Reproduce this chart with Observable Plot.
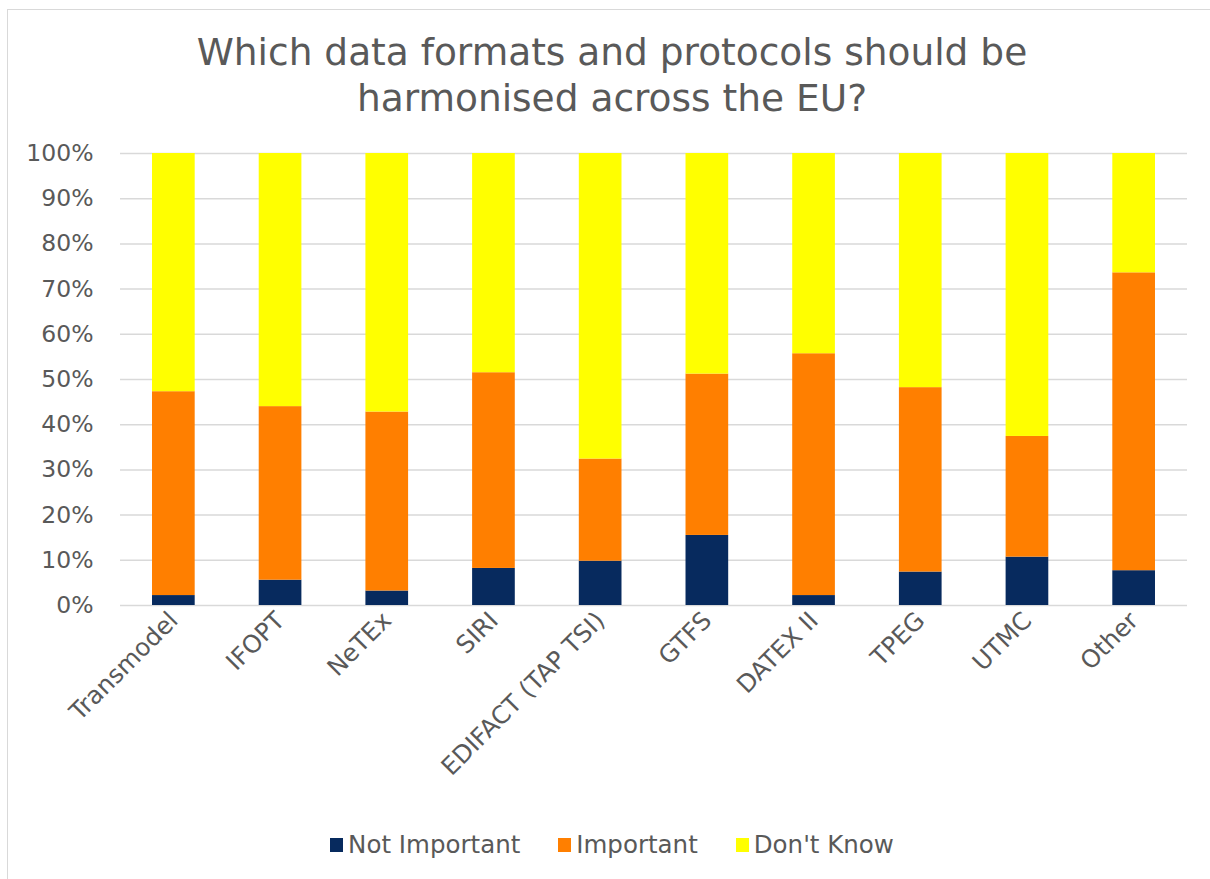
<!DOCTYPE html>
<html>
<head>
<meta charset="utf-8">
<script src="https://cdn.jsdelivr.net/npm/d3@7"></script>
<script src="https://cdn.jsdelivr.net/npm/@observablehq/plot@0.6"></script>
<style>
  html, body { margin: 0; padding: 0; background: #fff; }
  body { width: 1210px; height: 879px; position: relative; overflow: hidden; font-family: "DejaVu Sans", Verdana, sans-serif; color: #595959; }
  #frame { position: absolute; left: 7px; top: 9px; width: 1220px; height: 890px; border: 1.5px solid #d9d9d9; box-sizing: border-box; }
  #title { position: absolute; left: 7px; top: 29px; width: 1210px; text-align: center; font-size: 37.5px; line-height: 46px; color: #595959; }
  #chart { position: absolute; left: 0; top: 0; }
  #legend { position: absolute; left: 7px; top: 830px; width: 1210px; display: flex; justify-content: center; gap: 38px; font-size: 24.5px; line-height: 30px; color: #595959; }
  .item { display: flex; align-items: center; gap: 5px; }
  .sw { width: 13px; height: 14px; display: inline-block; }
</style>
</head>
<body>
<div id="frame"></div>
<div id="title">Which data formats and protocols should be<br>harmonised across the EU?</div>
<div id="chart"></div>
<div id="legend"></div>
<script>
const categories = ["Transmodel", "IFOPT", "NeTEx", "SIRI", "EDIFACT (TAP TSI)", "GTFS", "DATEX II", "TPEG", "UTMC", "Other"];
const notImportant = [2.2, 5.6, 3.2, 8.2, 9.8, 15.5, 2.2, 7.4, 10.7, 7.7];
const important    = [45.1, 38.4, 39.6, 43.3, 22.6, 35.7, 53.5, 40.8, 26.7, 65.9];
const dontKnow     = [52.7, 56.0, 57.2, 48.5, 67.6, 48.8, 44.3, 51.8, 62.6, 26.4];
const seriesNames = ["Not Important", "Important", "Don't Know"];
const seriesColors = ["#072a5e", "#ff7f00", "#ffff00"];
const yTicks = [0, 10, 20, 30, 40, 50, 60, 70, 80, 90, 100];

const seriesValues = [notImportant, important, dontKnow];
const data = categories.flatMap((c, i) =>
  seriesNames.map((s, k) => ({cat: c, series: s, value: seriesValues[k][i]}))
);

const chart = Plot.plot({
  width: 1210,
  height: 820,
  marginTop: 153,
  marginBottom: 215,
  marginLeft: 120,
  marginRight: 23,
  style: {fontFamily: "'DejaVu Sans', Verdana, sans-serif", fontSize: "23px", color: "#595959", background: "transparent"},
  x: {domain: categories, paddingInner: 0.6, paddingOuter: 0.3, round: false, label: null},
  y: {domain: [0, 100], label: null},
  color: {domain: seriesNames, range: seriesColors},
  marks: [
    Plot.gridY(yTicks, {stroke: "#d9d9d9", strokeOpacity: 1, strokeWidth: 1.5}),
    Plot.barY(data, Plot.stackY({x: "cat", y: "value", fill: "series"})),
    Plot.axisY(yTicks, {tickSize: 0, tickPadding: 27, tickFormat: d => d + "%", fontSize: 23.5, fill: "#595959", label: null}),
    Plot.axisX({tickSize: 0, tickPadding: 11, tickRotate: -45, fontSize: 24.5, fill: "#595959", label: null})
  ]
});
document.getElementById("chart").appendChild(chart);

const legend = document.getElementById("legend");
seriesNames.forEach((s, i) => {
  const item = document.createElement("div");
  item.className = "item";
  const sw = document.createElement("span");
  sw.className = "sw";
  sw.style.background = seriesColors[i];
  const t = document.createElement("span");
  t.textContent = s;
  item.appendChild(sw);
  item.appendChild(t);
  legend.appendChild(item);
});
</script>
</body>
</html>
